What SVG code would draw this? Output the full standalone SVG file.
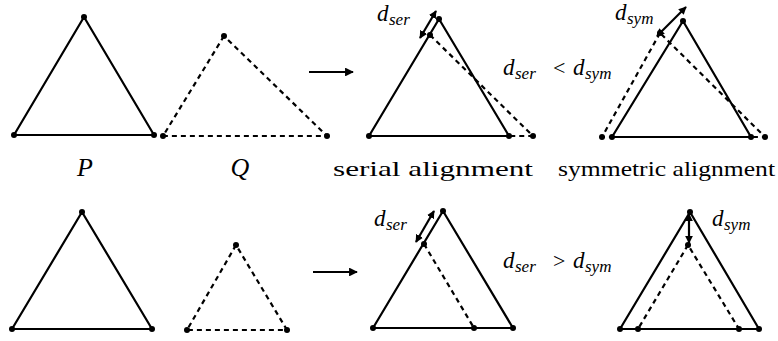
<svg xmlns="http://www.w3.org/2000/svg" width="778" height="341" viewBox="0 0 778 341">
<defs>
<style>
.s{fill:none;stroke:#000;stroke-width:2.2;stroke-linejoin:round}
.d{fill:none;stroke:#000;stroke-width:2.2;stroke-dasharray:5 4}
.a{fill:none;stroke:#000;stroke-width:2.2}
.v{fill:#000}
.m{font-style:italic;font-size:23px}
.sb{font-size:17px}
.op{font-style:normal;font-size:22px}
.t{font-size:21px}
.big{font-style:italic;font-size:26px}
</style>
<marker id="ah" viewBox="0 0 10 10" refX="9" refY="5" markerWidth="4" markerHeight="4" orient="auto-start-reverse" markerUnits="strokeWidth"><path d="M0,0 L10,5 L0,10 z" fill="#000"/></marker>
<marker id="bh" viewBox="0 0 10 10" refX="9" refY="5" markerWidth="3.6" markerHeight="3.6" orient="auto-start-reverse" markerUnits="strokeWidth"><path d="M0,0 L10,5 L0,10 z" fill="#000"/></marker>
</defs>

<g id="top-P">
<path class="s" d="M84,17 L14,135 L154,135 Z"/>
<circle class="v" cx="84" cy="17" r="3"/><circle class="v" cx="14" cy="135" r="3"/><circle class="v" cx="154" cy="135" r="3"/>
</g>
<g id="top-Q">
<path class="d" d="M224,36 L163,136 L327,136 Z"/>
<circle class="v" cx="224" cy="36" r="3"/><circle class="v" cx="163" cy="136" r="3"/><circle class="v" cx="327" cy="136" r="3"/>
</g>
<g id="top-serial">
<path class="s" d="M439,19 L369,136 L509,136 Z"/>
<path class="d" d="M430,35 L533,136 L509,136"/>
<circle class="v" cx="439" cy="19" r="3"/><circle class="v" cx="369" cy="136" r="3"/><circle class="v" cx="509" cy="136" r="3"/>
<circle class="v" cx="430" cy="35" r="3"/><circle class="v" cx="533" cy="136" r="3"/>
</g>
<g id="top-symmetric">
<path class="s" d="M683,21 L612,137 L751,137 Z"/>
<path class="d" d="M660,33 L602,137 L765,137 Z"/>
<circle class="v" cx="683" cy="21" r="3"/><circle class="v" cx="612" cy="137" r="3"/><circle class="v" cx="751" cy="137" r="3"/>
<circle class="v" cx="660" cy="33" r="3"/><circle class="v" cx="602" cy="137" r="3"/><circle class="v" cx="765" cy="137" r="3"/>
</g>

<g id="bot-P">
<path class="s" d="M82,212 L12,329 L152,329 Z"/>
<circle class="v" cx="82" cy="212" r="3"/><circle class="v" cx="12" cy="329" r="3"/><circle class="v" cx="152" cy="329" r="3"/>
</g>
<g id="bot-Q">
<path class="d" d="M236,245 L187,330 L287,330 Z"/>
<circle class="v" cx="236" cy="245" r="3"/><circle class="v" cx="187" cy="330" r="3"/><circle class="v" cx="287" cy="330" r="3"/>
</g>
<g id="bot-serial">
<path class="s" d="M443,211 L373,328 L513,328 Z"/>
<path class="d" d="M424,244 L474,328"/>
<circle class="v" cx="443" cy="211" r="3"/><circle class="v" cx="373" cy="328" r="3"/><circle class="v" cx="513" cy="328" r="3"/>
<circle class="v" cx="424" cy="244" r="3"/><circle class="v" cx="474" cy="328" r="3"/>
</g>
<g id="bot-symmetric">
<path class="s" d="M690,212 L620,329 L759,329 Z"/>
<path class="d" d="M688,245 L638,329 L739,329 Z"/>
<circle class="v" cx="690" cy="212" r="3"/><circle class="v" cx="620" cy="329" r="3"/><circle class="v" cx="759" cy="329" r="3"/>
<circle class="v" cx="688" cy="245" r="3"/><circle class="v" cx="638" cy="329" r="3"/><circle class="v" cx="739" cy="329" r="3"/>
</g>

<g id="connectors">
<line class="a" x1="309" y1="72" x2="353" y2="72" marker-end="url(#ah)"/>
<line class="a" x1="313" y1="272" x2="357" y2="272" marker-end="url(#ah)"/>
<line class="a" x1="420" y1="38" x2="436" y2="11" marker-start="url(#bh)" marker-end="url(#bh)"/>
<line class="a" x1="657" y1="36" x2="686" y2="7" marker-start="url(#bh)" marker-end="url(#bh)"/>
<line class="a" x1="416" y1="242" x2="434" y2="211" marker-start="url(#bh)" marker-end="url(#bh)"/>
<line class="a" x1="689" y1="214" x2="689" y2="243" marker-start="url(#bh)" marker-end="url(#bh)"/>
</g>

<g id="labels" font-family="Liberation Serif, Times New Roman, serif" fill="#000">
<text class="m" x="377" y="21">d<tspan class="sb" x="389" y="25">ser</tspan></text>
<text class="m" x="615" y="20">d<tspan class="sb" x="627" y="24">sym</tspan></text>
<text class="m" x="503" y="75">d<tspan class="sb" x="515" y="79">ser</tspan><tspan class="op" x="553" y="75">&lt;</tspan><tspan x="573" y="75">d</tspan><tspan class="sb" x="585" y="79">sym</tspan></text>
<text class="m" x="503" y="268">d<tspan class="sb" x="515" y="272">ser</tspan><tspan class="op" x="553" y="268">&gt;</tspan><tspan x="573" y="268">d</tspan><tspan class="sb" x="585" y="272">sym</tspan></text>
<text class="m" x="374" y="226">d<tspan class="sb" x="386" y="230">ser</tspan></text>
<text class="m" x="712" y="226">d<tspan class="sb" x="724" y="230">sym</tspan></text>
<text class="big" x="85" y="176" text-anchor="middle">P</text>
<text class="big" x="240" y="176" text-anchor="middle">Q</text>
<text class="t" x="333" y="176" textLength="200" lengthAdjust="spacingAndGlyphs">serial alignment</text>
<text class="t" x="558" y="176" textLength="217" lengthAdjust="spacingAndGlyphs">symmetric alignment</text>
</g>
</svg>
